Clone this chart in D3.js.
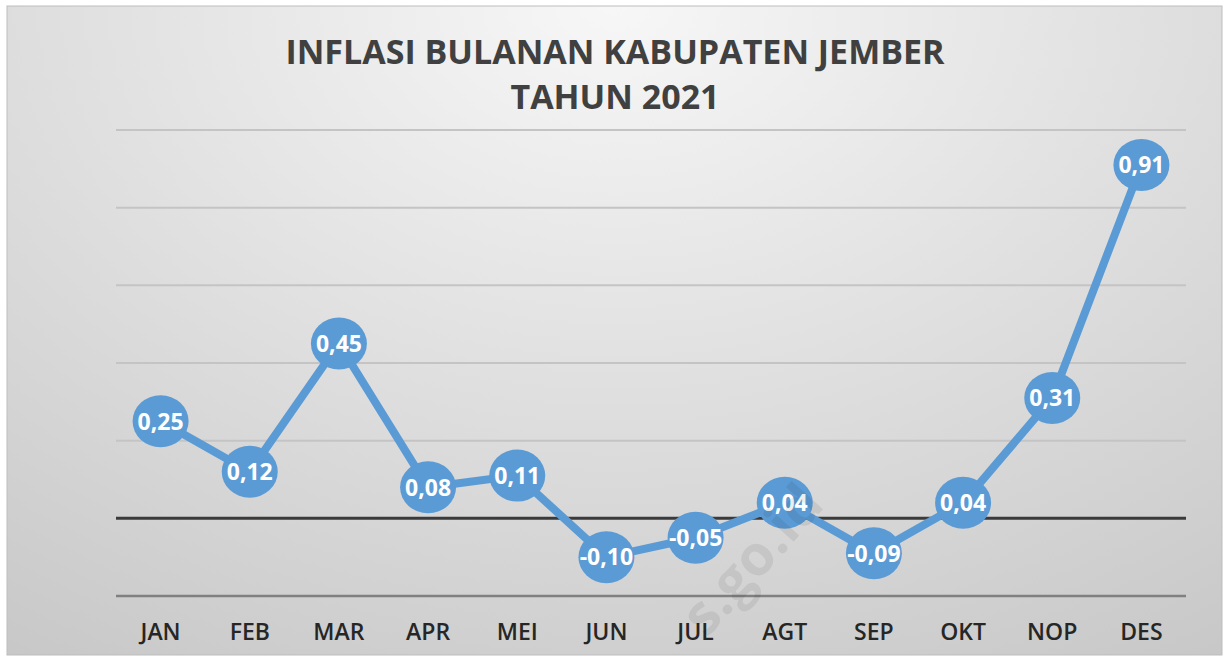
<!DOCTYPE html>
<html>
<head>
<meta charset="utf-8">
<script src="https://cdn.jsdelivr.net/npm/d3@7"></script>
<style>
  html, body { margin: 0; padding: 0; background: #fff; }
  svg { display: block; }
</style>
</head>
<body>
<div id="chart"></div>
<script>
var months = ['JAN','FEB','MAR','APR','MEI','JUN','JUL','AGT','SEP','OKT','NOP','DES'];
var inflasi = [0.25, 0.12, 0.45, 0.08, 0.11, -0.10, -0.05, 0.04, -0.09, 0.04, 0.31, 0.91];
var yTicks = [-0.2, 0, 0.2, 0.4, 0.6, 0.8, 1.0];
var titleLines = ['INFLASI BULANAN KABUPATEN JEMBER', 'TAHUN 2021'];

var width = 1224, height = 657;
var panel = {x: 7, y: 6, w: 1215, h: 649};
var plot = {left: 116, right: 1186, top: 130, bottom: 596};

var svg = d3.select('#chart').append('svg')
	.attr('width', width)
	.attr('height', height);

var defs = svg.append('defs');
var grad = defs.append('radialGradient')
	.attr('id', 'bg')
	.attr('cx', '50%').attr('cy', '0%')
	.attr('r', '95%')
	.attr('gradientTransform', 'translate(0.5,0) scale(1,1.3) translate(-0.5,0)');
grad.append('stop').attr('offset', '0%').attr('stop-color', '#f7f7f7');
grad.append('stop').attr('offset', '55%').attr('stop-color', '#dcdcdc');
grad.append('stop').attr('offset', '100%').attr('stop-color', '#c6c6c6');

svg.append('rect')
	.attr('x', panel.x).attr('y', panel.y)
	.attr('width', panel.w).attr('height', panel.h)
	.attr('fill', 'url(#bg)')
	.attr('stroke', '#bdbdbd')
	.attr('stroke-width', 1);

var x = d3.scalePoint()
	.domain(months)
	.range([plot.left, plot.right])
	.padding(0.5);

var y = d3.scaleLinear()
	.domain([-0.2, 1.0])
	.range([plot.bottom, plot.top]);

// gridlines
svg.append('g').attr('class', 'grid')
	.selectAll('line')
	.data(yTicks)
	.enter().append('line')
	.attr('x1', plot.left).attr('x2', plot.right)
	.attr('y1', function(d) { return y(d); })
	.attr('y2', function(d) { return y(d); })
	.attr('stroke', function(d) {
		if (d === 0) return '#3a3a3a';
		if (d === -0.2) return '#808080';
		return '#c4c4c4';
	})
	.attr('stroke-width', function(d) { return d === 0 ? 3 : (d === -0.2 ? 2.5 : 2); });

// x axis labels
svg.append('g').attr('class', 'xlabels')
	.selectAll('text')
	.data(months)
	.enter().append('text')
	.attr('x', function(d) { return x(d); })
	.attr('y', 640)
	.attr('text-anchor', 'middle')
	.attr('font-family', 'Open Sans, sans-serif')
	.attr('font-weight', 600)
	.attr('font-size', 23)
	.attr('fill', '#262626')
	.text(function(d) { return d; });

// title
svg.append('g').attr('class', 'title')
	.selectAll('text')
	.data(titleLines)
	.enter().append('text')
	.attr('x', 615)
	.attr('y', function(d, i) { return 64 + i * 45; })
	.attr('text-anchor', 'middle')
	.attr('font-family', 'Open Sans, sans-serif')
	.attr('font-weight', 'bold')
	.attr('font-size', 34)
	.attr('fill', '#404040')
	.text(function(d) { return d; });

var line = d3.line()
	.x(function(d, i) { return x(months[i]); })
	.y(function(d) { return y(d); });

svg.append('path')
	.datum(inflasi)
	.attr('fill', 'none')
	.attr('stroke', '#5b9bd5')
	.attr('stroke-width', 8)
	.attr('stroke-linejoin', 'round')
	.attr('d', line);

var pts = svg.append('g').attr('class', 'points')
	.selectAll('g')
	.data(inflasi)
	.enter().append('g')
	.attr('transform', function(d, i) { return 'translate(' + x(months[i]) + ',' + y(d) + ')'; });

pts.append('ellipse')
	.attr('rx', 28)
	.attr('ry', 26)
	.attr('fill', '#5b9bd5');

pts.append('text')
	.attr('text-anchor', 'middle')
	.attr('dy', '0.36em')
	.attr('font-family', 'Open Sans, sans-serif')
	.attr('font-weight', 'bold')
	.attr('font-size', 23)
	.attr('fill', '#fff')
	.text(function(d) { return d3.format('.2f')(d).replace('.', ',').replace('−', '-'); });

// watermark, faint and on top
svg.append('text')
	.attr('transform', 'translate(826,506) rotate(-48)')
	.attr('text-anchor', 'end')
	.attr('font-family', 'Open Sans, sans-serif')
	.attr('font-weight', 'bold')
	.attr('font-size', 56)
	.attr('fill', '#000')
	.attr('fill-opacity', 0.07)
	.text('s.go.id');
</script>
</body>
</html>
